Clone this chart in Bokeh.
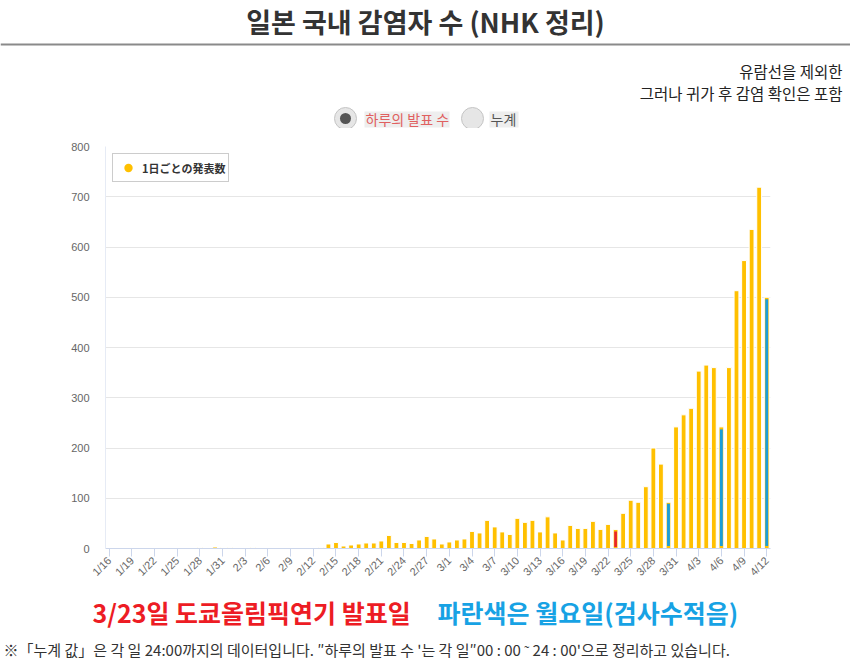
import math
import pandas as pd
from bokeh.plotting import figure
from bokeh.layouts import column
from bokeh.models import (Range1d, FixedTicker, SingleIntervalTicker, Legend,
                          LegendItem, Label, ColumnDataSource)
from bokeh.core.properties import value
from bokeh.embed import file_html
from bokeh.resources import INLINE

# daily announced cases, 1/16 .. 4/12 (NHK)
dates = pd.date_range("2020-01-16", "2020-04-12", freq="D")
day_labels = [f"{d.month}/{d.day}" for d in dates]
daily_counts = [
    1, 0, 0, 0, 0, 0, 0, 0, 1, 1, 1, 0, 2, 1, 3, 2, 2, 0, 0, 2,   # 1/16 - 2/4
    0, 0, 0, 0, 0, 0, 0, 0,                                       # 2/5 - 2/12
    2, 9, 12, 5, 7, 9, 11, 11, 15, 26,                            # 2/13 - 2/22
    12, 12, 10, 17, 24, 19, 9, 13, 17, 19,                        # 2/23 - 3/3
    34, 31, 56, 43, 33, 28, 60, 52, 56, 33,                       # 3/4 - 3/13
    63, 31, 17, 46, 40, 40, 54, 38, 48, 38,                       # 3/14 - 3/23
    70, 96, 92, 123, 200, 168, 92, 242, 266, 279,                 # 3/24 - 4/2
    353, 365, 360, 242, 360, 513, 573, 635, 719, 500,             # 4/3 - 4/12
]
tick_labels = day_labels[::3]

# highlighted days
red_days = ["3/23"]
red_counts = [34]
blue_days = ["3/30", "4/6", "4/12"]
blue_counts = [89, 237, 496]

title_text = "일본 국내 감염자 수 (NHK 정리)"
note_lines = ["유람선을 제외한", "그러나 귀가 후 감염 확인은 포함"]
radio_labels = ["하루의 발표 수", "누계"]
legend_label = "1日ごとの発表数"
unit_label = "( 人 )"
red_note = "3/23일 도쿄올림픽연기 발표일"
blue_note = "파란색은 월요일(검사수적음)"
footnote = ("※「누계 값」은 각 일 24:00까지의 데이터입니다. ″하루의 발표 수 '는 각 일″00 : 00 ˜ 24 : 00'으로 정리하고 있습니다.")

KR = "Noto Sans CJK KR"
JP = "Noto Sans CJK JP"
W = 850


def blank(height):
    f = figure(width=W, height=height, x_range=Range1d(0, W), y_range=Range1d(height, 0),
               output_backend="svg", toolbar_location=None, min_border=0, frame_align=False,
               x_axis_location=None, y_axis_location=None, outline_line_color=None)
    f.grid.visible = False
    return f


# header: title, rule, notes, radio buttons
head = blank(128)
head.text(x=[425], y=[21], text=[title_text], text_font=value(KR), text_font_size="27px",
          text_font_style="bold", text_color="#333333", text_align="center", text_baseline="middle")
head.segment(x0=[0], y0=[44], x1=[W], y1=[44], line_color="#8a8a8a", line_width=2)
head.text(x=[842, 842], y=[70, 92], text=note_lines, text_font=value(KR), text_font_size="15.5px",
          text_color="#222222", text_align="right", text_baseline="middle")
head.quad(left=[364, 489], right=[449, 518], top=[111, 111], bottom=[127, 127],
          fill_color="#eeeeee", line_color=None)
head.scatter(x=[345, 472], y=[118, 118], size=22, fill_color="#e6e6e6", line_color="#c4c4c4")
head.scatter(x=[345], y=[118], size=11, fill_color="#555555", line_color=None)
head.text(x=[365, 490], y=[118, 118], text=radio_labels, text_font=value(KR), text_font_size="14px",
          text_color=["#e06060", "#555555"], text_baseline="middle")

# main chart
src = ColumnDataSource(data=dict(x=list(range(len(daily_counts))), top=daily_counts))
p = figure(width=W, height=460, x_range=Range1d(-0.5, len(daily_counts) - 0.5),
           y_range=Range1d(0, 800), output_backend="svg", toolbar_location=None,
           min_border_left=105, min_border_right=80, min_border_top=18, min_border_bottom=40,
           outline_line_color=None, frame_align=False)
p.vbar(x="x", top="top", width=0.64, source=src, fill_color="#FFC000", line_color="white",
       line_width=1)
p.vbar(x=[day_labels.index(d) for d in red_days], bottom=3, top=red_counts, width=0.36,
       fill_color="#E8262B", line_color=None)
p.vbar(x=[day_labels.index(d) for d in blue_days], bottom=5, top=blue_counts, width=0.38,
       fill_color="#1A9DDA", line_color=None)

# legend marker (zero-size points, only the legend swatch shows)
proxy = p.scatter(x="x", y="top", source=src, size=0, marker="circle", fill_color="#FFC000",
                  line_color=None)
legend = Legend(items=[LegendItem(label=legend_label, renderers=[proxy])], location="top_left",
                margin=7, padding=3, label_height=21, glyph_height=21, glyph_width=24,
                label_standoff=2, border_line_color="#999999", background_fill_alpha=1,
                label_text_font=JP, label_text_font_size="11px", label_text_font_style="bold",
                label_text_color="#333333")
p.add_layout(legend)

p.xgrid.visible = False
p.ygrid.grid_line_color = "#e6e6e6"
p.yaxis.ticker = SingleIntervalTicker(interval=100)
p.yaxis.axis_line_color = "#e6ebf5"
p.yaxis.major_tick_line_color = None
p.yaxis.major_tick_out = 0
p.yaxis.major_tick_in = 0
p.yaxis.minor_tick_line_color = None
p.yaxis.major_label_standoff = 12
p.yaxis.major_label_text_font = "Liberation Sans"
p.yaxis.major_label_text_font_size = "11px"
p.yaxis.major_label_text_color = "#666666"

p.xaxis.ticker = FixedTicker(ticks=list(range(0, len(daily_counts), 3)))
p.xaxis.major_label_overrides = {i * 3: lab for i, lab in enumerate(tick_labels)}
p.xaxis.major_label_orientation = math.pi / 4
p.xaxis.axis_line_color = "#ccd6eb"
p.xaxis.major_tick_line_color = "#ccd6eb"
p.xaxis.major_tick_in = 0
p.xaxis.major_tick_out = 8
p.xaxis.minor_tick_line_color = None
p.xaxis.major_label_standoff = 2
p.xaxis.major_label_text_font = "Liberation Sans"
p.xaxis.major_label_text_font_size = "11px"
p.xaxis.major_label_text_color = "#666666"

p.add_layout(Label(x=-0.5, y=800, x_offset=-12, y_offset=9, text=unit_label,
                   text_font=JP, text_font_size="11px", text_color="#666666",
                   text_baseline="middle"))

# footer notes
foot = blank(81)
foot.text(x=[92], y=[23], text=[red_note], text_font=value(KR), text_font_size="25px",
          text_font_style="bold", text_color="#ED1C24", text_baseline="middle")
foot.text(x=[437], y=[23], text=[blue_note], text_font=value(KR), text_font_size="25px",
          text_font_style="bold", text_color="#17A2E4", text_baseline="middle")
foot.text(x=[3], y=[61], text=[footnote], text_font=value(KR), text_font_size="15px",
          text_color="#333333", text_baseline="middle")

layout = column(head, p, foot)
open("out.html", "w").write(file_html(layout, INLINE))
